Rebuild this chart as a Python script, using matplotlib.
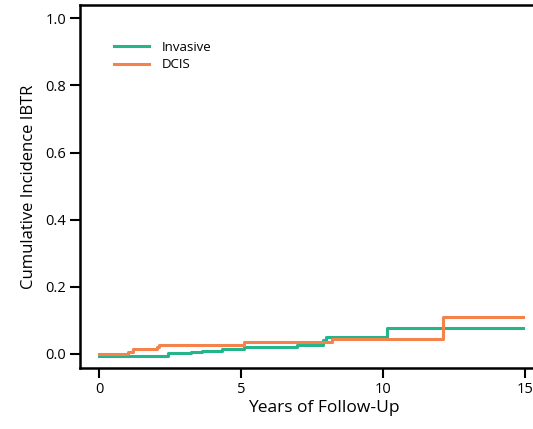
import matplotlib
matplotlib.use("Agg")
import matplotlib.pyplot as plt

# Data (step functions, steps-post)
inv_t = [0.0, 2.44, 3.24, 3.62, 4.32, 5.10, 6.96, 7.90, 7.98, 10.15, 14.94]
inv_y = [-0.005, 0.002, 0.007, 0.010, 0.015, 0.020, 0.028, 0.042, 0.050, 0.077, 0.077]

dcis_t = [0.0, 1.03, 1.21, 2.03, 2.11, 5.10, 8.19, 12.12, 14.94]
dcis_y = [0.0, 0.006, 0.014, 0.020, 0.027, 0.037, 0.044, 0.111, 0.111]

x_ticks = [0, 5, 10, 15]
y_ticks = [0.0, 0.2, 0.4, 0.6, 0.8, 1.0]

green = "#25b58b"
orange = "#f5824b"

plt.rcParams['font.family'] = ['Open Sans', 'DejaVu Sans']

fig = plt.figure(figsize=(5.33, 4.29), dpi=100)
ax = fig.add_axes([0.150, 0.142, 0.915, 0.846])

ax.plot(inv_t, inv_y, drawstyle="steps-post", color=green, lw=2.2, label="Invasive")
ax.plot(dcis_t, dcis_y, drawstyle="steps-post", color=orange, lw=2.2, label="DCIS")

ax.set_xlim(-0.67, 16.5)
ax.set_ylim(-0.042, 1.039)
ax.set_xticks(x_ticks)
ax.set_yticks(y_ticks)
ax.set_yticklabels([f"{v:.1f}" for v in y_ticks])
ax.tick_params(direction="out", length=7, width=1.5, labelsize=10.5, pad=3)

for s in ax.spines.values():
    s.set_linewidth(1.8)

ax.set_xlabel("Years of Follow-Up", fontsize=12.5, labelpad=2)
ax.set_ylabel("Cumulative Incidence IBTR", fontsize=12, labelpad=6)

leg = ax.legend(loc="upper left", bbox_to_anchor=(0.045, 0.935), frameon=False,
                fontsize=9.5, handlelength=2.65, handletextpad=1.0, labelspacing=0.35)

fig.savefig("out.png", dpi=100)
